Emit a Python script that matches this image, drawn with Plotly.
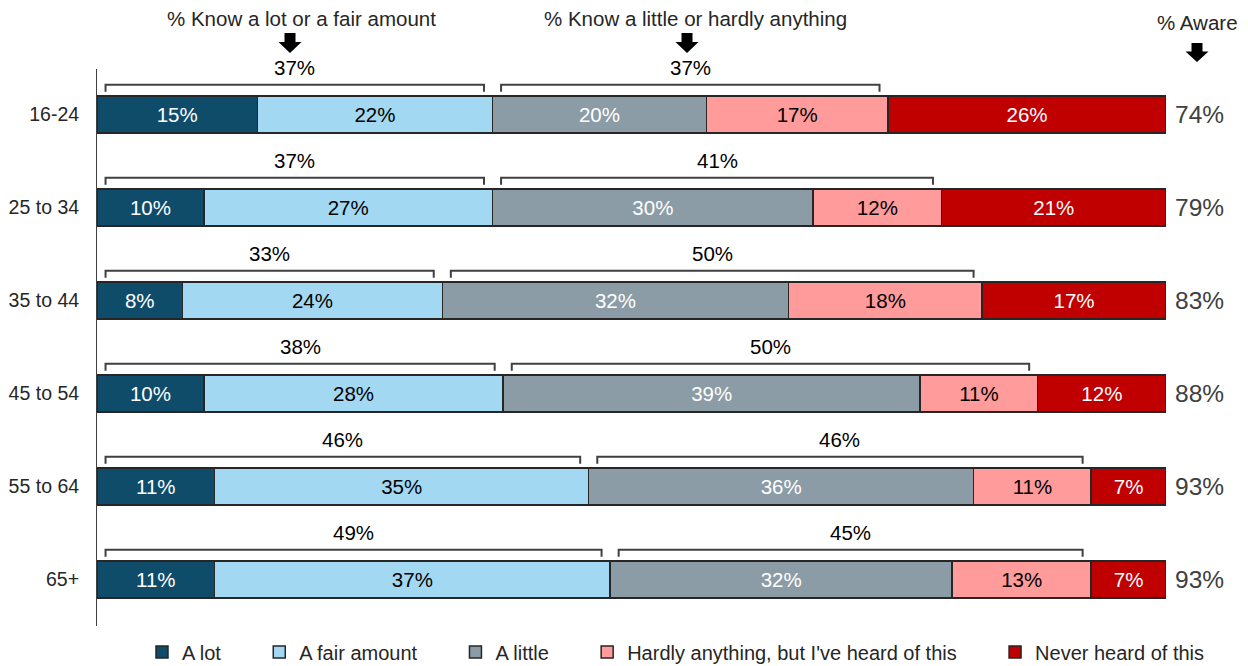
import plotly.graph_objects as go

categories = ["16-24", "25 to 34", "35 to 44", "45 to 54", "55 to 64", "65+"]
series_names = ["A lot", "A fair amount", "A little",
                "Hardly anything, but I've heard of this", "Never heard of this"]
a_lot = [15, 10, 8.0, 10, 11, 11]
fair_amount = [22, 27, 24.3, 28, 35, 37]
a_little = [20, 30, 32.4, 39, 36, 32]
hardly = [17, 12, 18.1, 11, 11, 13]
never = [26, 21, 17.2, 12, 7, 7]
know_lot_fair = [37, 37, 33, 38, 46, 49]
know_little_hardly = [37, 41, 50, 50, 46, 45]
aware = [74, 79, 83, 88, 93, 93]

colors = ["#0F4C6A", "#A3D8F2", "#8C9CA6", "#FF9B9B", "#C00000"]
text_colors = ["white", "black", "white", "black", "white"]
FONT = "Liberation Sans, Arial, sans-serif"

series = [a_lot, fair_amount, a_little, hardly, never]
ypos = list(range(len(categories)))
PAD = "\u00a0" * 6
BAR_W = 0.4

fig = go.Figure()
for k, (name, vals, col, tcol) in enumerate(zip(series_names, series, colors, text_colors)):
    legend_name = name + (PAD if k < len(series_names) - 1 else "")
    fig.add_trace(go.Bar(
        y=ypos, x=vals, orientation="h", name=legend_name,
        marker=dict(color=col, line=dict(color="#262626", width=1.5)),
        text=[f"{round(v)}%" for v in vals], textposition="inside",
        insidetextanchor="middle", textangle=0,
        textfont=dict(color=tcol, size=20.5, family=FONT),
        hoverinfo="skip", width=BAR_W,
    ))

# page geometry (the page body has an 8px margin)
OFF = 8
PAGE_W, PAGE_H = 1248, 666
W, H = PAGE_W - OFF, PAGE_H - OFF
# plot area in page px: x 97..1166, y 69..626
L, R, T, B = 97, 1166, 69, 626
def px(x):
    return (x - L) / (R - L)
def py(y):
    return (B - y) / (B - T)

shapes = []
annotations = []
inset = 0.8
for i in ypos:
    g1_end = a_lot[i] + fair_amount[i]
    g2_end = g1_end + a_little[i] + hardly[i]
    y0, y1 = i - 0.32, i - 0.245
    for xs, xe, lab in [(0, g1_end, know_lot_fair[i]), (g1_end, g2_end, know_little_hardly[i])]:
        a, b = xs + inset, xe - inset
        shapes.append(dict(type="path", xref="x", yref="y",
                           path=f"M {a},{y1} L {a},{y0} L {b},{y0} L {b},{y1}",
                           line=dict(color="#404040", width=2)))
        annotations.append(dict(x=(a + b) / 2, y=i - BAR_W / 2, xref="x", yref="y",
                                yshift=28, text=f"{lab}%", showarrow=False,
                                xanchor="center", yanchor="middle",
                                font=dict(size=20.5, color="black", family=FONT)))
    annotations.append(dict(x=px(1199), y=i, xref="paper", yref="y",
                            text=f"{aware[i]}%", showarrow=False, xanchor="center",
                            yanchor="middle",
                            font=dict(size=24.5, color="#404040", family=FONT)))

# headers
for txt, cx, cy in [("% Know a lot or a fair amount", 301, 19),
                    ("% Know a little or hardly anything", 695, 19),
                    ("% Aware", 1197, 22)]:
    annotations.append(dict(x=px(cx), y=py(cy), xref="paper", yref="paper",
                            text=txt, showarrow=False, xanchor="center", yanchor="middle",
                            font=dict(size=20.5, color="#262626", family=FONT)))

def arrow(cx, top, bottom):
    sw, hw = 5.5, 11.5
    mid = top + (bottom - top) * 0.45
    pts = [(cx - sw, top), (cx + sw, top), (cx + sw, mid), (cx + hw, mid),
           (cx, bottom), (cx - hw, mid), (cx - sw, mid)]
    p = "M " + " L ".join(f"{px(x)},{py(y)}" for x, y in pts) + " Z"
    return dict(type="path", xref="paper", yref="paper", path=p,
                fillcolor="black", line=dict(color="black", width=0))

shapes += [arrow(290, 33, 53), arrow(687, 33, 53), arrow(1197, 43, 62)]

fig.update_layout(
    barmode="stack",
    width=W, height=H,
    margin=dict(l=L - OFF, r=PAGE_W - R, t=T - OFF, b=PAGE_H - B, autoexpand=False),
    paper_bgcolor="white", plot_bgcolor="white",
    font=dict(family=FONT, color="black"),
    xaxis=dict(range=[0, 100], showgrid=False, zeroline=False, showticklabels=False,
               showline=False, fixedrange=True, automargin=False),
    yaxis=dict(range=[5.5, -0.49], tickvals=ypos, ticktext=categories,
               showgrid=False, zeroline=False, showline=True, linecolor="#404040",
               linewidth=1, ticks="", ticklabelstandoff=13, automargin=False,
               tickfont=dict(size=19.5, color="#262626", family=FONT)),
    showlegend=True,
    legend=dict(orientation="h", x=px(676), y=py(652), xanchor="center", yanchor="middle",
                font=dict(size=20, color="#262626", family=FONT), itemwidth=30,
                traceorder="normal", tracegroupgap=0),
    shapes=shapes, annotations=annotations,
)

fig.write_html("out.html")
